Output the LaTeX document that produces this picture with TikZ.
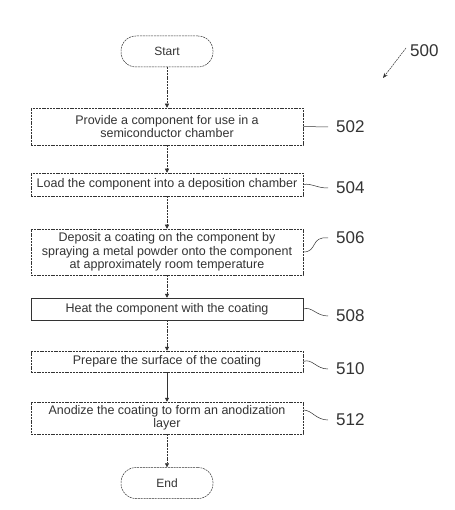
\documentclass[tikz,border=0pt]{standalone}
\usepackage{fontspec}
\setmainfont{Liberation Sans}
\usetikzlibrary{arrows.meta}
\definecolor{ink}{gray}{0.2}
\tikzset{
  x=1pt,y=-1pt,
  line/.style={draw=ink, line width=0.5pt, dash pattern=on 2pt off 0.8pt},
  stepbox/.style={line, rectangle, minimum width=272pt, align=center, font=\fontsize{12.5}{13.5}\selectfont, text=ink, inner sep=1pt},
  term/.style={line, rounded corners=15pt, minimum width=92pt, minimum height=31pt, font=\fontsize{12}{14}\selectfont, text=ink},
  flow/.style={line, -{Triangle[length=4pt,width=4pt]}},
  ref/.style={font=\fontsize{17}{19}\selectfont, text=ink, anchor=west, inner sep=1pt},
  lead/.style={draw=ink, line width=0.5pt}
}
\begin{document}
\begin{tikzpicture}
\useasboundingbox (0,0) rectangle (454,510);
\node[term] (start) at (167,51.5) {Start};
\node[stepbox, minimum height=37pt] (s502) at (167,126.5) {Provide a component for use in a\\semiconductor chamber};
\node[stepbox, minimum height=23pt] (s504) at (167,184.5) {Load the component into a deposition chamber};
\node[stepbox, minimum height=46pt] (s506) at (167,252) {Deposit a coating on the component by\\spraying a metal powder onto the component\\at approximately room temperature};
\node[stepbox, minimum height=22pt, solid] (s508) at (167,309) {Heat the component with the coating};
\node[stepbox, minimum height=21pt] (s510) at (167,361.5) {Prepare the surface of the coating};
\node[stepbox, minimum height=32pt] (s512) at (167,418) {Anodize the coating to form an anodization\\layer};
\node[term] (end) at (167,483) {End};

\draw[flow] (start) -- (s502);
\draw[flow] (s502) -- (s504);
\draw[flow] (s504) -- (s506);
\draw[flow] (s506) -- (s508);
\draw[flow] (s508) -- (s510);
\draw[flow, solid] (s510) -- (s512);
\draw[flow] (s512) -- (end);

\node[ref] (r500) at (409,51) {500};
\node[ref] (r502) at (335,127) {502};
\node[ref] (r504) at (335,188) {504};
\node[ref] (r506) at (335,238) {506};
\node[ref] (r508) at (335,316) {508};
\node[ref] (r510) at (335,369) {510};
\node[ref] (r512) at (335,420) {512};

\draw[lead, dash pattern=on 2pt off 0.8pt, -{Stealth[length=5pt,width=4pt]}] (r500.west) ++(-3,-3) -- (383,78);
\draw[lead] (s502.east) -- ([xshift=-7pt]r502.west);
\draw[lead] (s504.east) .. controls (312,183) and (316,188) .. ([xshift=-7pt]r504.west);
\draw[lead] (s506.east) .. controls (318,252) and (310,236) .. ([xshift=-7pt]r506.west);
\draw[lead] (s508.east) .. controls (312,306) and (316,316) .. ([xshift=-7pt]r508.west);
\draw[lead] (s510.east) .. controls (312,358) and (316,369) .. ([xshift=-7pt]r510.west);
\draw[lead] (s512.east |- 0,410) .. controls (312,410) and (316,420) .. ([xshift=-7pt]r512.west);
\end{tikzpicture}
\end{document}
